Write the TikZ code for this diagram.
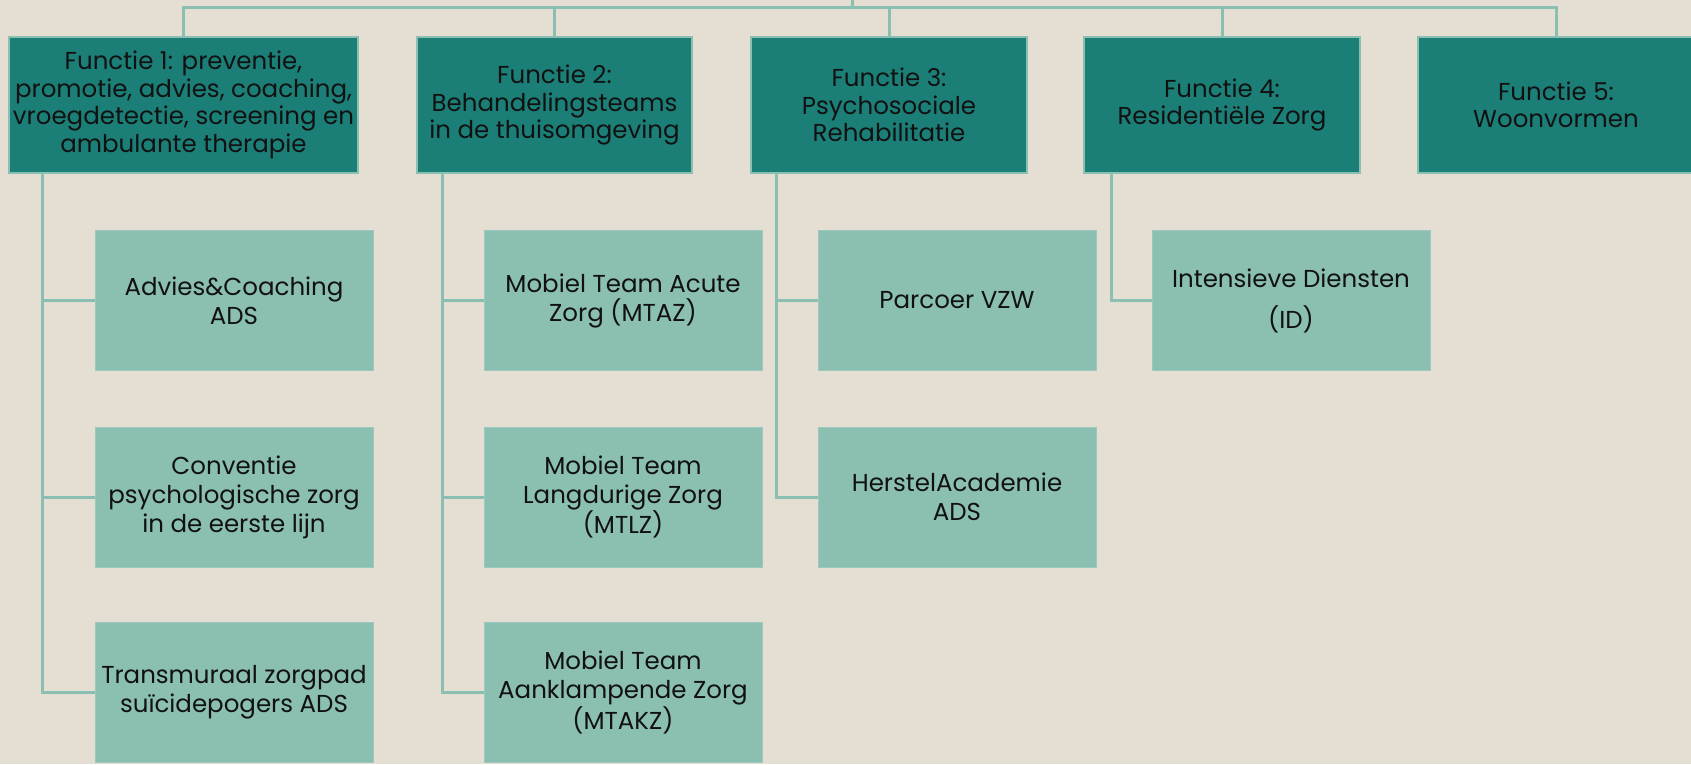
\documentclass[tikz,border=0pt]{standalone}
\usepackage{fontspec}
\setmainfont{Poppins}
\usetikzlibrary{calc}
\definecolor{bg}{HTML}{E4DED3}
\definecolor{dark}{HTML}{1B7F77}
\definecolor{light}{HTML}{8ABFB2}
\definecolor{txt}{HTML}{111111}
\begin{document}
\begin{tikzpicture}[x=1pt,y=-1pt,
  top/.style={draw=light, line width=2pt, fill=dark, minimum width=276pt, minimum height=136pt, inner sep=0pt, align=center, text=txt, font=\fontsize{24.5}{27.5}\selectfont},
  sub/.style={draw=light!85!white, line width=0.8pt, fill=light, minimum width=278pt, minimum height=140pt, inner sep=0pt, align=center, text=txt, font=\fontsize{24.5}{29}\selectfont},
  conn/.style={draw=light, line width=3pt}]
\fill[bg] (0,0) rectangle (1691,764);
\useasboundingbox (0,0) rectangle (1691,764);
% top level
\node[top, minimum width=349pt] (F1) at (183.5,105) {Functie 1: preventie,\\promotie, advies, coaching,\\vroegdetectie, screening en\\ambulante therapie};
\node[top, minimum width=275pt] (F2) at (554.5,105) {Functie 2:\\Behandelingsteams\\in de thuisomgeving};
\node[top] (F3) at (889,105) {Functie 3:\\Psychosociale\\Rehabilitatie};
\node[top] (F4) at (1222,105) {Functie 4:\\Residentiële Zorg};
\node[top] (F5) at (1556,105) {Functie 5:\\Woonvormen};
% children
\node[sub] (C1a) at (234,300.5) {Advies\&Coaching\\ADS};
\node[sub] (C1b) at (234,497) {Conventie\\psychologische zorg\\in de eerste lijn};
\node[sub] (C1c) at (234,692.5) {Transmuraal zorgpad\\suïcidepogers ADS};
\node[sub] (C2a) at (623,300.5) {Mobiel Team Acute\\Zorg (MTAZ)};
\node[sub] (C2b) at (623,497) {Mobiel Team\\Langdurige Zorg\\(MTLZ)};
\node[sub] (C2c) at (623,692.5) {Mobiel Team\\Aanklampende Zorg\\(MTAKZ)};
\node[sub] (C3a) at (957,300.5) {Parcoer VZW};
\node[sub] (C3b) at (957,497) {HerstelAcademie\\ADS};
\node[sub] (C4a) at (1291,300.5) {Intensieve Diensten\\[12pt](ID)};
% top connectors
\coordinate (root) at (852,0);
\coordinate (bar) at (0,7);
\draw[conn] (F1.north) |- (bar -| F5.north) -- (F5.north);
\draw[conn] (F2.north) -- (F2.north |- bar);
\draw[conn] (F3.north) -- (F3.north |- bar);
\draw[conn] (F4.north) -- (F4.north |- bar);
\draw[conn] (root) -- (root |- bar);
% child connectors
\coordinate (v1) at ($(F1.south west)+(34,0)$);
\coordinate (v2) at ($(F2.south west)+(26,0)$);
\coordinate (v3) at ($(F3.south west)+(26.5,0)$);
\coordinate (v4) at ($(F4.south west)+(28,0)$);
\draw[conn] (v1) |- (C1c.west);
\draw[conn] (C1a.west) -- (C1a.west -| v1);
\draw[conn] (C1b.west) -- (C1b.west -| v1);
\draw[conn] (v2) |- (C2c.west);
\draw[conn] (C2a.west) -- (C2a.west -| v2);
\draw[conn] (C2b.west) -- (C2b.west -| v2);
\draw[conn] (v3) |- (C3b.west);
\draw[conn] (C3a.west) -- (C3a.west -| v3);
\draw[conn] (v4) |- (C4a.west);
\end{tikzpicture}
\end{document}
